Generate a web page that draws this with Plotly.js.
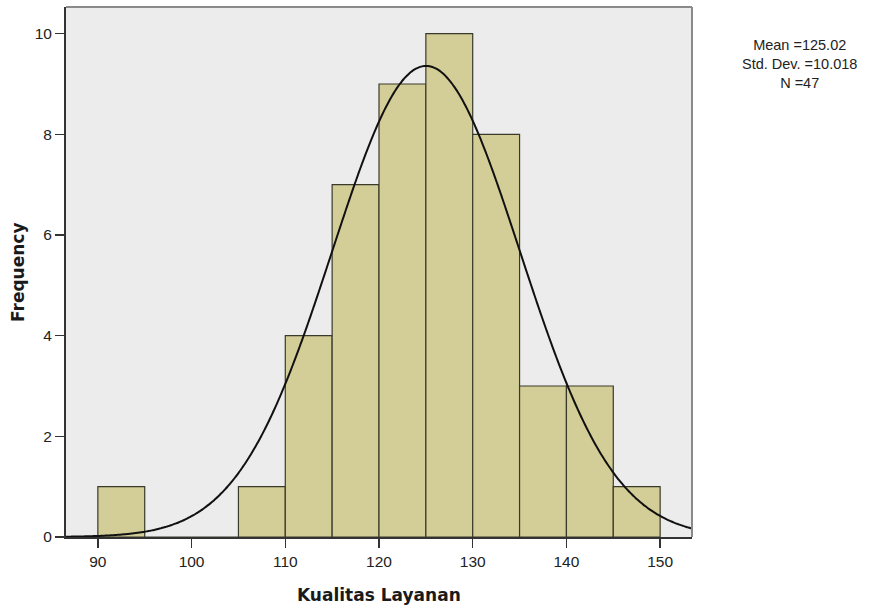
<!DOCTYPE html>
<html>
<head>
<meta charset="utf-8">
<script src="https://cdn.plot.ly/plotly-3.0.1.min.js"></script>
<style>html,body{margin:0;padding:0;background:#fff;}#chart{width:873px;height:612px;}</style>
</head>
<body>
<div id="chart"></div>
<script>
// Histogram bins (left edge) and counts
const binStart = [90, 95, 100, 105, 110, 115, 120, 125, 130, 135, 140, 145];
const binWidth = 5;
const counts   = [1, 0, 0, 1, 4, 7, 9, 10, 8, 3, 3, 1];
// Summary statistics shown on the chart
const meanVal = 125.02;
const sdVal = 10.018;
const nVal = 47;
const xTicks = [90, 100, 110, 120, 130, 140, 150];
const yTicks = [0, 2, 4, 6, 8, 10];

const barX = binStart.map(s => s + binWidth / 2);

// Fitted normal curve from the stated mean / SD / N
const curveX = [];
for (let x = 86.6; x <= 153.4; x += 0.2) curveX.push(x);
const curveY = curveX.map(x => nVal * binWidth / (sdVal * Math.sqrt(2 * Math.PI)) *
  Math.exp(-0.5 * Math.pow((x - meanVal) / sdVal, 2)));

const data = [
  {
    type: 'bar', x: barX, y: counts, width: binWidth,
    marker: {color: '#d3cd97', line: {color: '#3a3a2a', width: 1.2}},
    hoverinfo: 'x+y'
  },
  {
    type: 'scatter', mode: 'lines', x: curveX, y: curveY,
    line: {color: '#111111', width: 2, shape: 'spline'}, hoverinfo: 'skip'
  }
];

const statFont = {family: 'Liberation Sans, Arial, sans-serif', size: 14.5, color: '#222'};
const titleFont = {family: 'DejaVu Sans, Verdana, sans-serif', size: 17, color: '#1a1a1a'};

const layout = {
  width: 873, height: 612,
  margin: {l: 66, r: 181, t: 7, b: 75},
  paper_bgcolor: '#ffffff', plot_bgcolor: '#ececec',
  showlegend: false,
  bargap: 0,
  font: {family: 'Liberation Sans, Arial, sans-serif', color: '#222', size: 15.5},
  xaxis: {
    range: [86.6, 153.4], tickvals: xTicks, ticks: 'outside', ticklen: 9,
    tickwidth: 1.5, tickcolor: '#333', showgrid: false, zeroline: false,
    showline: true, linecolor: '#333', linewidth: 2, mirror: false,
    tickfont: {size: 15.5, color: '#222'}
  },
  yaxis: {
    range: [0, 10.53], tickvals: yTicks, ticks: 'outside', ticklen: 9,
    tickwidth: 1.5, tickcolor: '#333', showgrid: false, zeroline: false,
    showline: true, linecolor: '#333', linewidth: 2,
    tickfont: {size: 15.5, color: '#222'}
  },
  shapes: [
    {type: 'line', xref: 'paper', yref: 'paper', x0: 0, x1: 1, y0: 1, y1: 1,
     line: {color: '#8a8a8a', width: 2}},
    {type: 'line', xref: 'paper', yref: 'paper', x0: 1, x1: 1, y0: 0, y1: 1,
     line: {color: '#8a8a8a', width: 2}}
  ],
  annotations: [
    {xref: 'paper', yref: 'paper', x: -0.0767, y: 0.5, text: '<b>Frequency</b>',
     textangle: -90, showarrow: false, xanchor: 'center', yanchor: 'middle',
     font: titleFont},
    {xref: 'paper', yref: 'paper', x: 0.5, y: -0.1094, text: '<b>Kualitas Layanan</b>',
     showarrow: false, xanchor: 'center', yanchor: 'middle',
     font: titleFont},
    {xref: 'paper', yref: 'paper', x: 1.1725, y: 0.8925,
     text: 'Mean =' + meanVal.toFixed(2) + '<br>Std. Dev. =' + sdVal.toFixed(3) + '<br>N =' + nVal,
     showarrow: false, xanchor: 'center', yanchor: 'middle', align: 'center', font: statFont}
  ]
};

Plotly.newPlot('chart', data, layout, {displayModeBar: false, staticPlot: true});
</script>
</body>
</html>
